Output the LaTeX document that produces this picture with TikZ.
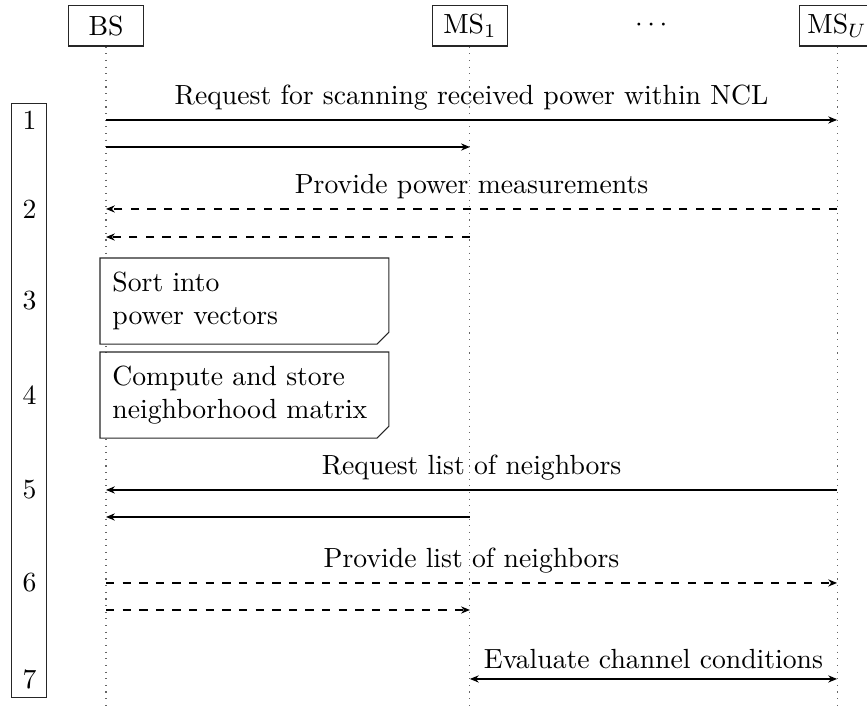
\documentclass[tikz,border=0pt]{standalone}
\usepackage{amsmath}
\usepackage{tikz}
\usetikzlibrary{arrows.meta, calc, positioning}

\tikzset{
  entity/.style={draw=black!85, minimum width=0.95cm, minimum height=0.52cm, inner sep=2pt},
  lifeline/.style={dotted, gray!80!black},
  msg/.style={-{Stealth[length=3.2pt,width=2.6pt]}},
  reply/.style={msg, dashed},
  twoway/.style={{Stealth[length=3.2pt,width=2.6pt]}-{Stealth[length=3.2pt,width=2.6pt]}},
  note/.style={fill=white, align=left, text width=3.35cm, inner xsep=0.15cm, minimum height=1.078cm, anchor=north west},
  stepbox/.style={draw=black!85, line width=0.35pt, minimum width=0.444cm, minimum height=7.548cm, inner sep=0pt}
}

\begin{document}
\begin{tikzpicture}

  \useasboundingbox (0,0) rectangle (11.0,-8.995);

  % Entities
  \node[entity] (bs)  at (1.345,-0.324) {BS};
  \node[entity] (ms1) at (5.962,-0.324) {MS$_1$};
  \node[entity] (msu) at (10.62,-0.324) {MS$_U$};
  \node (dots) at ($(ms1)!0.5!(msu)$) {$\cdots$};

  % Lifelines
  \coordinate (bottom) at (0,-9.0);
  \draw[lifeline] (bs.south)  -- (bs |- bottom);
  \draw[lifeline] (ms1.south) -- (ms1 |- bottom);
  \draw[lifeline] (msu.south) -- (msu |- bottom);

  % Message rows
  \coordinate (m1a) at (0,-1.522);
  \coordinate (m1b) at (0,-1.865);
  \coordinate (m2a) at (0,-2.651);
  \coordinate (m2b) at (0,-3.007);
  \coordinate (m5a) at (0,-6.216);
  \coordinate (m5b) at (0,-6.559);
  \coordinate (m6a) at (0,-7.396);
  \coordinate (m6b) at (0,-7.739);
  \coordinate (m7)  at (0,-8.614);

  % Step 1
  \draw[msg] (bs |- m1a) -- node[above] {Request for scanning received power within NCL} (msu |- m1a);
  \draw[msg] (bs |- m1b) -- (ms1 |- m1b);

  % Step 2
  \draw[reply] (msu |- m2a) -- node[above] {Provide power measurements} (bs |- m2a);
  \draw[reply] (ms1 |- m2b) -- (bs |- m2b);

  % Steps 3 and 4 (local processing at BS)
  \node[note] (n3) at (1.269,-3.273) {Sort into\\power vectors};
  \node[note] (n4) at (1.269,-4.466) {Compute and store\\neighborhood matrix};
  \foreach \n in {n3,n4}
    \draw[draw=black!85] (\n.north west) -- (\n.north east) -- ([yshift=0.15cm]\n.south east)
      -- ([xshift=-0.15cm]\n.south east) -- (\n.south west) -- cycle;

  % Step 5
  \draw[msg] (msu |- m5a) -- node[above] {Request list of neighbors} (bs |- m5a);
  \draw[msg] (ms1 |- m5b) -- (bs |- m5b);

  % Step 6
  \draw[reply] (bs |- m6a) -- node[above] {Provide list of neighbors} (msu |- m6a);
  \draw[reply] (bs |- m6b) -- (ms1 |- m6b);

  % Step 7
  \draw[twoway] (ms1 |- m7) -- node[above] {Evaluate channel conditions} (msu |- m7);

  % Step numbers
  \node[stepbox] (steps) at (0.374,-5.081) {};
  \node at (steps |- m1a) {1};
  \node at (steps |- m2a) {2};
  \node at (steps |- n3)  {3};
  \node at (steps |- n4)  {4};
  \node at (steps |- m5a) {5};
  \node at (steps |- m6a) {6};
  \node at (steps |- m7)  {7};

\end{tikzpicture}
\end{document}
